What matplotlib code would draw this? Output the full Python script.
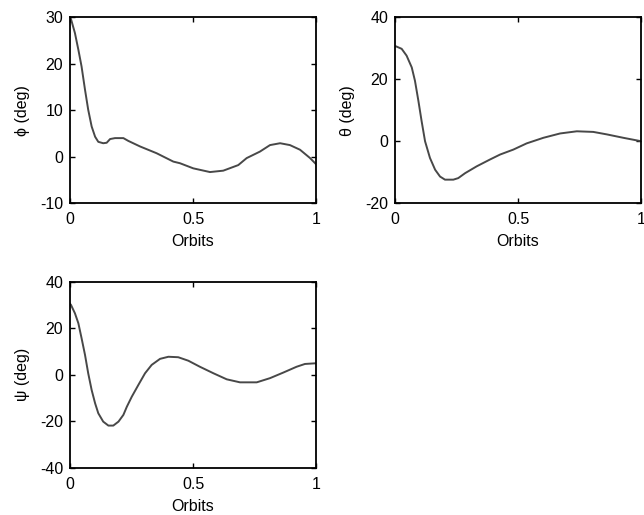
import numpy as np
import matplotlib
matplotlib.use('Agg')
import matplotlib.pyplot as plt

plt.rcParams['font.family'] = ['Liberation Sans', 'DejaVu Sans']
plt.rcParams['font.size'] = 11.5
plt.rcParams['axes.unicode_minus'] = False

# Euler angle histories over one orbit
orb_phi = [0.0, 0.004, 0.02, 0.034, 0.047, 0.061, 0.074, 0.088, 0.102, 0.115,
           0.135, 0.149, 0.163, 0.183, 0.217, 0.237, 0.285, 0.352, 0.42, 0.447,
           0.501, 0.569, 0.623, 0.684, 0.718, 0.772, 0.813, 0.854, 0.894, 0.935,
           0.976, 1.0]
phi = [30.0, 29.6, 26.6, 23.0, 19.4, 14.4, 10.1, 6.5, 4.3, 3.2,
       2.9, 3.0, 3.8, 4.0, 4.0, 3.4, 2.2, 0.75, -1.05, -1.4,
       -2.5, -3.3, -3.0, -1.8, -0.3, 1.1, 2.5, 2.9, 2.5, 1.5,
       -0.3, -1.6]

orb_theta = [0.0, 0.004, 0.027, 0.047, 0.068, 0.081, 0.095, 0.108, 0.122, 0.142,
             0.163, 0.183, 0.203, 0.237, 0.257, 0.285, 0.332, 0.386, 0.427, 0.481,
             0.535, 0.603, 0.671, 0.739, 0.806, 0.861, 0.928, 1.0]
theta = [30.6, 30.6, 29.8, 27.6, 23.8, 19.5, 13.0, 6.5, 0.0, -5.4,
         -9.2, -11.4, -12.4, -12.4, -11.9, -10.3, -8.1, -5.9, -4.3, -2.7,
         -0.7, 1.1, 2.5, 3.2, 3.0, 2.2, 1.1, 0.0]

orb_psi = [0.0, 0.004, 0.02, 0.034, 0.047, 0.061, 0.074, 0.088, 0.102, 0.115,
           0.135, 0.156, 0.176, 0.197, 0.217, 0.231, 0.251, 0.278, 0.305, 0.332,
           0.366, 0.40, 0.44, 0.481, 0.528, 0.583, 0.637, 0.691, 0.759, 0.813,
           0.867, 0.921, 0.955, 1.0]
psi = [30.5, 30.0, 26.4, 22.1, 15.7, 8.5, 0.6, -6.6, -12.3, -16.6,
       -20.2, -21.9, -21.9, -20.2, -17.3, -13.8, -9.5, -4.4, 0.6, 4.2,
       6.8, 7.7, 7.5, 6.0, 3.4, 0.6, -2.0, -3.3, -3.3, -1.5,
       0.9, 3.4, 4.6, 4.9]

fig = plt.figure(figsize=(6.44, 5.15), dpi=100)

def panel(rect, x, y, ylabel, ylim, yticks):
    ax = fig.add_axes(rect)
    ax.plot(x, y, color='#484848', lw=1.4)
    ax.set_xlim(0, 1)
    ax.set_ylim(*ylim)
    ax.set_xticks([0, 0.5, 1])
    ax.set_xticklabels(['0', '0.5', '1'])
    ax.set_yticks(yticks)
    ax.set_xlabel('Orbits', labelpad=5)
    ax.set_ylabel(ylabel, labelpad=7)
    ax.tick_params(direction='in', top=True, right=True, length=3.5, width=1)
    ax.tick_params(axis='x', pad=6.5)
    ax.tick_params(axis='y', pad=5)
    for s in ax.spines.values():
        s.set_linewidth(1.3)
    return ax

panel([0.1087, 0.6054, 0.382, 0.3612], orb_phi, phi, '\u03d5 (deg)',
      (-10, 30), [-10, 0, 10, 20, 30])
panel([0.6134, 0.6054, 0.382, 0.3612], orb_theta, theta, '\u03b8 (deg)',
      (-20, 40), [-20, 0, 20, 40])
panel([0.1087, 0.0919, 0.382, 0.3612], orb_psi, psi, '\u03c8 (deg)',
      (-40, 40), [-40, -20, 0, 20, 40])

fig.savefig('out.png', dpi=100)
